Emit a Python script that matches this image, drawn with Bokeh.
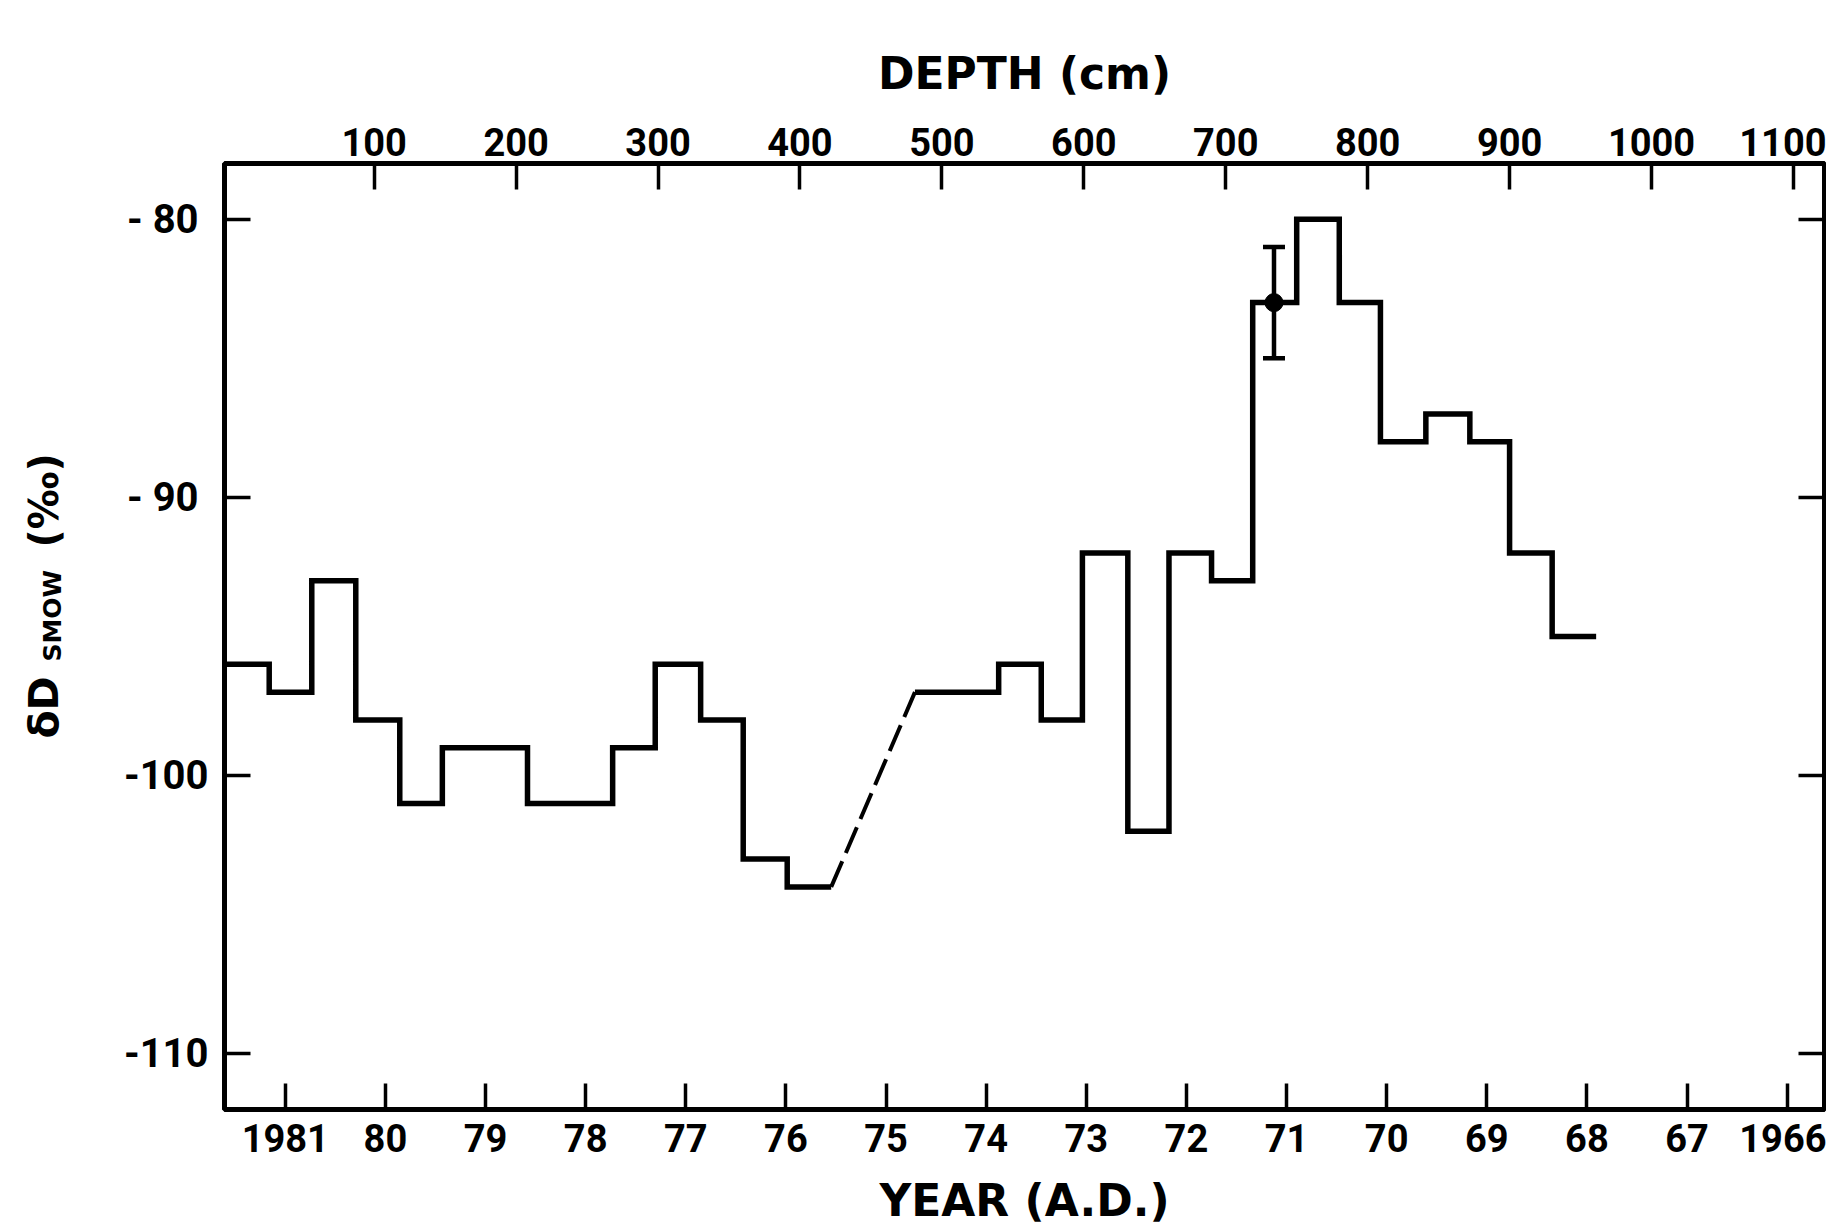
import numpy as np
from bokeh.plotting import figure
from bokeh.layouts import row
from bokeh.models import (Range1d, LinearAxis, FixedTicker, Whisker, TeeHead,
                          ColumnDataSource, CustomJSTickFormatter)
from bokeh.core.properties import value
from bokeh.embed import file_html
from bokeh.resources import INLINE

# ---------------- data ----------------
# upper part of the record: step boundaries (depth, cm) and dD values (permil)
depth_upper = [-5.5, 26, 56, 87, 118, 148, 208, 268, 298, 330, 360, 391, 422]
dD_upper = [-96, -97, -93, -98, -101, -99, -101, -99, -96, -98, -103, -104]

# dashed connection across the missing interval
gap_depth = [422, 481]
gap_dD = [-104, -97]

# lower part of the record
depth_lower = [481, 540, 570, 599, 631, 660, 690, 719, 750, 780, 809, 841,
               872, 900, 930, 961]
dD_lower = [-97, -96, -98, -92, -102, -92, -93, -83, -80, -83, -88, -87,
            -88, -92, -95]

# single error bar
err_depth = [734]
err_dD = [-83]
err_sigma = [2]

# axes
depth_ticks = [100, 200, 300, 400, 500, 600, 700, 800, 900, 1000, 1100]
year_ticks = [1981, 1980, 1979, 1978, 1977, 1976, 1975, 1974, 1973, 1972,
              1971, 1970, 1969, 1968, 1967, 1966]
year_labels = ["1981", "80", "79", "78", "77", "76", "75", "74", "73", "72",
               "71", "70", "69", "68", "67", "1966"]
dD_ticks = [-80, -90, -100, -110]
dD_labels = ["-  80", "-  90", "-100", "-110"]

# y-axis title pieces: delta D, subscript SMOW, (permil)
ytitle_text = ["δD", "SMOW", "(‰)"]

depth_range = (-5.5, 1121.9)
year_range = (1981.607, 1965.627)
dD_range = (-112.0, -78.0)

TICK_FONT = "Roboto"
TITLE_FONT = "DejaVu Sans"

FRAME_W, FRAME_H = 1600, 946
TOP, BOTTOM = 163, 135
LW = 110  # width of the strip that carries the y-axis title

# ---------------- left strip carrying the y-axis title ----------------
lf = figure(frame_width=LW, frame_height=FRAME_H,
            x_range=Range1d(0, LW), y_range=Range1d(*dD_range),
            x_axis_location=None, y_axis_location=None,
            output_backend="svg", toolbar_location=None,
            min_border_left=0, min_border_right=0,
            min_border_top=TOP, min_border_bottom=BOTTOM,
            outline_line_color=None, background_fill_color="white",
            border_fill_color="white")
lf.xgrid.grid_line_color = None
lf.ygrid.grid_line_color = None
title_pos = [(43, -98.67, "41px"), (52, -95.9, "25px"), (43, -91.8, "40px")]
for t, (tx, ty, fs) in zip(ytitle_text, title_pos):
    lf.text(x=[tx], y=[ty], text=[t], angle=np.pi / 2, text_align="left",
            text_baseline="middle", text_font=value(TITLE_FONT),
            text_font_style="bold", text_font_size=fs, text_color="black")

# ---------------- main figure ----------------
p = figure(frame_width=FRAME_W, frame_height=FRAME_H,
           x_range=Range1d(*depth_range), y_range=Range1d(*dD_range),
           x_axis_location=None, y_axis_location=None,
           output_backend="svg", toolbar_location=None,
           min_border_left=224 - LW, min_border_top=TOP,
           min_border_bottom=BOTTOM, min_border_right=2,
           background_fill_color="white", border_fill_color="white")
p.extra_x_ranges = {"year": Range1d(*year_range)}
p.xgrid.grid_line_color = None
p.ygrid.grid_line_color = None
p.outline_line_color = "black"
p.outline_line_width = 5


def style(ax, label_size="38px"):
    ax.axis_line_color = "black"
    ax.axis_line_width = 4
    ax.major_tick_in = 26
    ax.major_tick_out = 0
    ax.major_tick_line_width = 3.5
    ax.major_tick_line_color = "black"
    ax.minor_tick_line_color = None
    ax.major_label_text_font = TICK_FONT
    ax.major_label_text_font_style = "bold"
    ax.major_label_text_font_size = label_size
    ax.major_label_text_color = "black"
    ax.axis_label_text_font = TITLE_FONT
    ax.axis_label_text_font_style = "bold"
    ax.axis_label_text_font_size = "44px"
    ax.axis_label_text_color = "black"


top = LinearAxis(ticker=FixedTicker(ticks=depth_ticks, minor_ticks=[]),
                 axis_label="DEPTH (cm)")
style(top)
top.major_label_standoff = 8
top.axis_label_standoff = 26
p.add_layout(top, "above")

bottom = LinearAxis(x_range_name="year",
                    ticker=FixedTicker(ticks=year_ticks, minor_ticks=[]),
                    major_label_overrides=dict(zip(year_ticks, year_labels)),
                    axis_label="YEAR (A.D.)")
style(bottom)
bottom.major_label_standoff = 14
bottom.axis_label_standoff = 20
p.add_layout(bottom, "below")

left = LinearAxis(ticker=FixedTicker(ticks=dD_ticks, minor_ticks=[]),
                  major_label_overrides=dict(zip(dD_ticks, dD_labels)))
style(left, label_size="40px")
left.major_label_standoff = 16
p.add_layout(left, "left")

right = LinearAxis(ticker=FixedTicker(ticks=dD_ticks, minor_ticks=[]),
                   formatter=CustomJSTickFormatter(code="return ''"))
style(right)
right.major_label_standoff = 0
p.add_layout(right, "right")

# ---------------- marks ----------------
p.step(depth_upper, dD_upper + [dD_upper[-1]], mode="after",
       line_color="black", line_width=5.5, line_join="miter")
p.step(depth_lower, dD_lower + [dD_lower[-1]], mode="after",
       line_color="black", line_width=5.5, line_join="miter")
p.line(gap_depth, gap_dD, line_color="black", line_width=4, line_dash="28 9")

err_src = ColumnDataSource(data=dict(
    x=err_depth, y=err_dD,
    upper=[v + s for v, s in zip(err_dD, err_sigma)],
    lower=[v - s for v, s in zip(err_dD, err_sigma)]))
p.add_layout(Whisker(source=err_src, base="x", upper="upper", lower="lower",
                     dimension="height", line_color="black", line_width=4.5,
                     upper_head=TeeHead(size=22, line_width=4.5, line_color="black"),
                     lower_head=TeeHead(size=22, line_width=4.5, line_color="black")))
p.scatter("x", "y", source=err_src, size=18, color="black")

layout = row(lf, p)
open("out.html", "w").write(file_html(layout, INLINE))
